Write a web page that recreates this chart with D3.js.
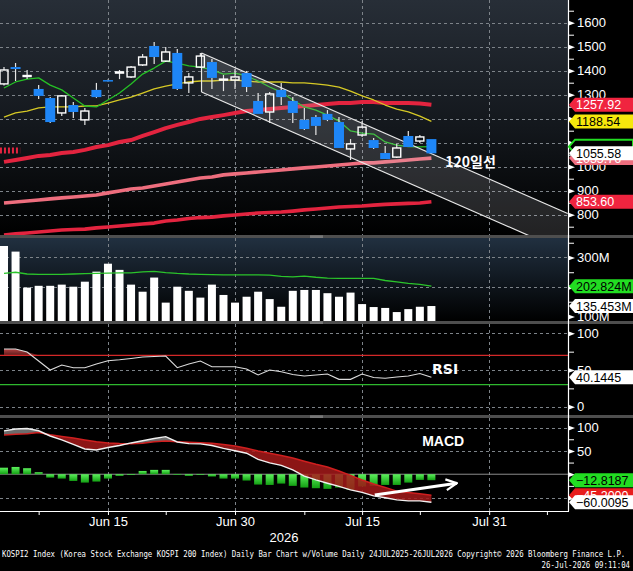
<!DOCTYPE html>
<html>
<head>
<meta charset="utf-8">
<script src="https://cdn.jsdelivr.net/npm/d3@7"></script>
<style>
  html, body { margin: 0; padding: 0; background: #000; overflow: hidden; }
  svg { display: block; }
  text { font-family: "Liberation Sans", Arial, sans-serif; }
</style>
</head>
<body>
<div id="chart"></div>
<script>
// KOSPI2 daily bars
var days = ["Jun 1", "Jun 2", "Jun 4", "Jun 5", "Jun 8", "Jun 9", "Jun 10", "Jun 11", "Jun 12",
  "Jun 15", "Jun 16", "Jun 17", "Jun 18", "Jun 19", "Jun 22", "Jun 23", "Jun 24", "Jun 25", "Jun 26",
  "Jun 29", "Jun 30", "Jul 1", "Jul 2", "Jul 3", "Jul 6", "Jul 7", "Jul 8", "Jul 9", "Jul 10",
  "Jul 13", "Jul 14", "Jul 15", "Jul 16", "Jul 20", "Jul 21", "Jul 22", "Jul 23", "Jul 24"];

var openP  = [1345, 1415, 1377, 1324, 1286, 1224, 1257, 1195, 1320, 1361, 1390, 1374, 1424, 1503, 1440, 1474, 1349, 1415, 1436,
  1361, 1361, 1390, 1274, 1228, 1320, 1274, 1195, 1207, 1220, 1186, 1074, 1132, 1111, 1057, 1040, 1128, 1107, 1115];
var highP  = [1415, 1432, 1403, 1340, 1290, 1299, 1270, 1245, 1349, 1363, 1403, 1420, 1470, 1520, 1499, 1490, 1390, 1474, 1449,
  1382, 1407, 1399, 1307, 1311, 1349, 1290, 1245, 1215, 1236, 1207, 1115, 1190, 1120, 1086, 1095, 1149, 1132, 1115];
var lowP   = [1338, 1357, 1365, 1282, 1182, 1211, 1203, 1174, 1286, 1355, 1365, 1370, 1420, 1428, 1436, 1320, 1307, 1411, 1324,
  1315, 1324, 1311, 1220, 1182, 1257, 1182, 1153, 1132, 1190, 1078, 1028, 1124, 1074, 1032, 1036, 1082, 1099, 1055];
var closeP = [1403, 1407, 1380, 1295, 1186, 1295, 1228, 1232, 1290, 1357, 1395, 1415, 1457, 1457, 1478, 1324, 1374, 1461, 1370,
  1365, 1374, 1332, 1220, 1303, 1290, 1224, 1157, 1170, 1195, 1078, 1095, 1165, 1078, 1032, 1078, 1082, 1124, 1055.58];

var maGreen  = [1328, 1353, 1365, 1370, 1340, 1320, 1286, 1253, 1249, 1278, 1307, 1345, 1386, 1411, 1440, 1432, 1420, 1415, 1403,
  1386, 1390, 1378, 1357, 1332, 1311, 1278, 1249, 1236, 1215, 1190, 1149, 1140, 1136, 1103, 1090, 1084, 1083, 1083.46];
var maYellow = [1207, 1224, 1232, 1245, 1249, 1249, 1249, 1253, 1253, 1265, 1278, 1290, 1307, 1324, 1336, 1345, 1353, 1357, 1357,
  1361, 1361, 1357, 1353, 1353, 1353, 1349, 1349, 1345, 1340, 1332, 1315, 1295, 1278, 1257, 1240, 1228, 1211, 1188.54];
var maRed    = [1020, 1028, 1036, 1045, 1049, 1057, 1061, 1070, 1082, 1090, 1103, 1111, 1128, 1144, 1161, 1174, 1186, 1199, 1207,
  1215, 1224, 1232, 1236, 1240, 1245, 1249, 1253, 1257, 1261, 1265, 1265, 1270, 1270, 1265, 1265, 1265, 1263, 1257.92];
var maPink   = [849, 853, 857, 861, 866, 870, 874, 878, 882, 891, 899, 907, 911, 920, 928, 936, 945, 953, 957,
  966, 970, 974, 978, 982, 986, 991, 995, 999, 1003, 1007, 1011, 1016, 1016, 1020, 1024, 1028, 1032, 1035.76];
var maLow    = [715, 720, 724, 728, 732, 736, 738, 740, 745, 749, 753, 757, 761, 765, 774, 778, 784, 788, 790,
  795, 799, 803, 807, 809, 811, 815, 820, 824, 828, 832, 834, 836, 840, 843, 845, 847, 849, 853.60];

// volume in millions
var volume = [339, 320, 198, 204, 204, 208, 201, 218, 252, 279, 258, 208, 184, 232, 147, 201, 187, 164, 208,
  173, 147, 167, 184, 159, 133, 187, 190, 190, 179, 167, 181, 142, 132, 129, 115, 125, 133, 135.453];
var volMA  = [246, 250, 244, 243, 243, 243, 244, 245, 246, 247, 248, 248, 251, 253, 249, 246, 244, 243, 242,
  241, 241, 241, 241, 240, 236, 234, 237, 233, 230, 229.5, 229.5, 229.5, 229, 222, 217, 212.5, 209, 202.824];

var rsi = [78.6, 78.6, 74.5, 62.3, 50, 56.8, 53.1, 53.1, 58.2, 62.7, 64, 65.7, 67.7, 68.4, 69, 53.1, 58.2, 62.3, 54.5,
  54.5, 54.5, 51.4, 43.2, 50, 47.7, 43.9, 41.8, 43.2, 44.6, 37.3, 37.3, 44.6, 39.8, 38.7, 40.5, 41.8, 45.2, 40.1445];

var macdLine   = [93, 97, 98, 93.2, 82, 73.5, 63.9, 54.2, 52.1, 57.2, 61.7, 67.1, 71.8, 76.7, 80.6, 69.2, 65.6, 65.1, 61.7,
  55.3, 50.4, 45, 31.7, 24.2, 18.9, 9.2, -4.1, -12.2, -19.3, -26.1, -33.6, -39, -46.5, -50.4, -55, -57.2, -57.2, -60.0095];
var signalLine = [84, 86, 87, 89.6, 84.6, 81, 77.8, 73.5, 69.6, 67.1, 66, 65.6, 66.6, 69.4, 71.4, 69.9, 68.6, 67.5, 66.6,
  63.9, 60.6, 55.7, 49.9, 45, 40.3, 34.9, 27.9, 21.4, 15.6, 6.9, -2.4, -12.4, -21, -28.3, -36.4, -39, -41.8, -45.2];
var macdHist   = [14, 15.6, 12.9, 4.3, -7.3, -9.4, -14.4, -18, -15.8, -9.4, -3.6, -0.5, 7, 9.3, 9.3, 0.5, -3.6, -0.5, -5,
  -9.4, -9.4, -13.6, -22.2, -23, -20.1, -25, -28.6, -30, -31.4, -28.6, -33.6, -26.4, -25, -23, -23, -18, -12.2, -12.8187];

// axis ticks (labels hidden behind value tags in the original are left out)
var tickIdx = [9, 20, 31, 42];
var tickLabels = ["Jun 15", "Jun 30", "Jul 15", "Jul 31"];
var minorTickIdx = [3, 14, 26, 36, 47];
var priceTicks = [800, 900, 1000, 1100, 1200, 1300, 1400, 1500, 1600];
var priceLabelTicks = [800, 900, 1000, 1300, 1400, 1500, 1600];
var priceMinor = [750, 850, 950, 1050, 1150, 1250, 1350, 1450, 1550, 1650];
var volTicks = [100, 200, 300];
var volLabelTicks = [100, 300];
var volMinor = [150, 250, 350];
var volGrid = [200, 300];
var rsiTicks = [0, 50, 100];
var rsiMinor = [25, 75];
var macdTicks = [-50, 0, 50, 100];
var macdLabelTicks = [50, 100];
var macdMinor = [-25, 25, 75];
var macdGrid = [-50, 50, 100];

// drawn annotations (index, value)
var channelTop = [[17.1, 1474], [48.8, 805]];
var channelBottom = [[17.1, 1311], [48.8, 642]];
var maNote = {i: 38.2, v: 999, text: "120일선"};
var stubLine = [[-0.35, 1067], [1.4, 1067]];
var macdArrow = [[32.1, -44.4], [39.2, -19.3]];

// ---- layout
var svgWidth = 633;
var svgHeight = 571;
var plotRight = 568;
var panels = {
  price: {top: 0, bottom: 235},
  vol: {top: 238, bottom: 321},
  rsi: {top: 324, bottom: 415},
  macd: {top: 418, bottom: 511}
};

var svg = d3.select("#chart")
  .append("svg")
  .attr("width", svgWidth)
  .attr("height", svgHeight);

var defs = svg.append("defs");

function vGradient(id, stops) {
  var g = defs.append("linearGradient").attr("id", id)
    .attr("x1", 0).attr("y1", 0).attr("x2", 0).attr("y2", 1);
  stops.forEach(function(s) {
    g.append("stop").attr("offset", s[0]).attr("stop-color", s[1]);
  });
}
vGradient("bgPrice", [[0, "#272e37"], [0.55, "#13171c"], [1, "#000"]]);
vGradient("bgVol", [[0, "#213040"], [1, "#000"]]);
vGradient("histGrad", [[0, "#5cf05c"], [1, "#13a013"]]);
vGradient("rsiGrad", [[0, "#b54040"], [1, "#5a1c1c"]]);

Object.keys(panels).forEach(function(k) {
  defs.append("clipPath").attr("id", "clip-" + k)
    .append("rect")
    .attr("x", 0).attr("y", panels[k].top)
    .attr("width", plotRight).attr("height", panels[k].bottom - panels[k].top);
});

defs.append("marker").attr("id", "arrowHead")
  .attr("viewBox", "0 0 10 10").attr("refX", 9).attr("refY", 5)
  .attr("markerWidth", 4.5).attr("markerHeight", 5.5)
  .attr("orient", "auto").attr("markerUnits", "strokeWidth")
  .append("path").attr("d", "M1,1 L9,5 L1,9")
  .attr("fill", "none").attr("stroke", "#fff").attr("stroke-width", 1.6);

// ---- scales
var x = d3.scaleLinear().domain([0, 37]).range([4, 431.4]);
var yP = d3.scaleLinear().domain([715.4, 1694.6]).range([235, 0]);
var yV = d3.scaleLinear().domain([84.7, 366.1]).range([321, 238]);
var yR = d3.scaleLinear().domain([-11.3, 112.7]).range([415, 324]);
var yM = d3.scaleLinear().domain([-78.9, 120.6]).range([511, 418]);
var idx = d3.range(days.length);

// ---- backgrounds
svg.append("rect").attr("width", svgWidth).attr("height", svgHeight).attr("fill", "#000");
svg.append("rect").attr("x", 0).attr("y", panels.price.top).attr("width", plotRight)
  .attr("height", panels.price.bottom - panels.price.top).attr("fill", "url(#bgPrice)");
svg.append("rect").attr("x", 0).attr("y", panels.vol.top).attr("width", plotRight)
  .attr("height", panels.vol.bottom - panels.vol.top).attr("fill", "url(#bgVol)");

// ---- grids
var gridColor = "#7d8389";
function hGrid(values, scale) {
  svg.append("g").selectAll("line").data(values).enter().append("line")
    .attr("x1", 0).attr("x2", plotRight)
    .attr("y1", function(d) { return Math.round(scale(d)) + 0.5; })
    .attr("y2", function(d) { return Math.round(scale(d)) + 0.5; })
    .attr("stroke", gridColor).attr("stroke-dasharray", "3,3");
}
function vGrid(p) {
  svg.append("g").selectAll("line").data(tickIdx).enter().append("line")
    .attr("x1", function(d) { return Math.round(x(d)) + 0.5; })
    .attr("x2", function(d) { return Math.round(x(d)) + 0.5; })
    .attr("y1", p.top).attr("y2", p.bottom)
    .attr("stroke", gridColor).attr("stroke-dasharray", "3,3");
}
hGrid(priceTicks, yP);
hGrid(volGrid, yV);
hGrid(rsiTicks, yR);
hGrid(macdGrid, yM);
Object.keys(panels).forEach(function(k) { vGrid(panels[k]); });

// ---- price panel
var priceG = svg.append("g").attr("clip-path", "url(#clip-price)");

function maLine(arr, color, width) {
  priceG.append("path")
    .datum(idx)
    .attr("fill", "none")
    .attr("stroke", color)
    .attr("stroke-width", width)
    .attr("stroke-linejoin", "round")
    .attr("d", d3.line().x(function(i) { return x(i); }).y(function(i) { return yP(arr[i]); }));
}
maLine(maLow, "#e3243f", 3.6);
maLine(maPink, "#ee6e7e", 3.6);
maLine(maRed, "#e3243f", 4);
maLine(maYellow, "#d6c925", 1.3);
maLine(maGreen, "#25c025", 1.3);

priceG.append("path")
  .datum(stubLine)
  .attr("stroke", "#e3243f").attr("stroke-width", 6).attr("stroke-dasharray", "2,2")
  .attr("d", d3.line().x(function(d) { return x(d[0]); }).y(function(d) { return yP(d[1]); }));

// trend channel
var chPoly = channelTop.concat(channelBottom.slice().reverse());
priceG.append("path")
  .datum(chPoly)
  .attr("fill", "rgba(205,210,215,0.17)")
  .attr("d", d3.line().x(function(d) { return x(d[0]); }).y(function(d) { return yP(d[1]); }).curve(d3.curveLinearClosed));
[channelTop, channelBottom].forEach(function(seg) {
  priceG.append("path").datum(seg)
    .attr("fill", "none").attr("stroke", "#e8e8e8").attr("stroke-width", 1.2)
    .attr("d", d3.line().x(function(d) { return x(d[0]); }).y(function(d) { return yP(d[1]); }));
});
priceG.append("line")
  .attr("x1", x(channelTop[0][0])).attr("x2", x(channelBottom[0][0]))
  .attr("y1", yP(channelTop[0][1])).attr("y2", yP(channelBottom[0][1]))
  .attr("stroke", "#e8e8e8").attr("stroke-width", 1.2);

// candles
var candleG = priceG.append("g");
idx.forEach(function(i) {
  var up = closeP[i] >= openP[i];
  var top = yP(Math.max(openP[i], closeP[i]));
  var bot = yP(Math.min(openP[i], closeP[i]));
  var cx = x(i);
  candleG.append("line")
    .attr("x1", cx).attr("x2", cx).attr("y1", yP(highP[i])).attr("y2", top)
    .attr("stroke", "#e6e6e6").attr("stroke-width", 1.2);
  candleG.append("line")
    .attr("x1", cx).attr("x2", cx).attr("y1", bot).attr("y2", yP(lowP[i]))
    .attr("stroke", "#e6e6e6").attr("stroke-width", 1.2);
  if (up) {
    candleG.append("rect")
      .attr("x", cx - 4).attr("y", top).attr("width", 8).attr("height", Math.max(1, bot - top))
      .attr("fill", "none").attr("stroke", "#fff").attr("stroke-width", 1.4);
  } else {
    candleG.append("rect")
      .attr("x", cx - 5).attr("y", top).attr("width", 10).attr("height", Math.max(1.5, bot - top))
      .attr("fill", "#1e86f7");
  }
});

svg.append("text")
  .attr("x", x(maNote.i)).attr("y", yP(maNote.v))
  .attr("fill", "#fff").attr("font-size", 14).attr("font-weight", "bold")
  .style("font-family", "'Noto Sans CJK KR', 'Noto Sans', sans-serif")
  .text(maNote.text);

// ---- volume panel
var volG = svg.append("g").attr("clip-path", "url(#clip-vol)");
volG.selectAll("rect").data(idx).enter().append("rect")
  .attr("x", function(i) { return x(i) - 4; })
  .attr("width", 8)
  .attr("y", function(i) { return yV(volume[i]); })
  .attr("height", function(i) { return panels.vol.bottom - yV(volume[i]); })
  .attr("fill", "#fff");
volG.append("path").datum(idx)
  .attr("fill", "none").attr("stroke", "#2bc42b").attr("stroke-width", 1.3)
  .attr("d", d3.line().x(function(i) { return x(i); }).y(function(i) { return yV(volMA[i]); }));

// ---- RSI panel
var rsiG = svg.append("g").attr("clip-path", "url(#clip-rsi)");
rsiG.append("path").datum(idx)
  .attr("fill", "url(#rsiGrad)")
  .attr("d", d3.area().x(function(i) { return x(i); })
    .y0(function() { return yR(70); })
    .y1(function(i) { return yR(Math.max(70, rsi[i])); }));
rsiG.append("line").attr("x1", 0).attr("x2", plotRight)
  .attr("y1", yR(70)).attr("y2", yR(70)).attr("stroke", "#d42828").attr("stroke-width", 1.2);
rsiG.append("line").attr("x1", 0).attr("x2", plotRight)
  .attr("y1", yR(30)).attr("y2", yR(30)).attr("stroke", "#2eb82e").attr("stroke-width", 1.2);
rsiG.append("path").datum(idx)
  .attr("fill", "none").attr("stroke", "#dcdcdc").attr("stroke-width", 1.1)
  .attr("d", d3.line().x(function(i) { return x(i); }).y(function(i) { return yR(rsi[i]); }));
svg.append("text").attr("x", x(37.06)).attr("y", yR(43.9))
  .attr("fill", "#fff").attr("font-size", 14).attr("font-weight", "bold")
  .style("font-family", "'DejaVu Sans', sans-serif")
  .text("RSI");

// ---- MACD panel
var macdG = svg.append("g").attr("clip-path", "url(#clip-macd)");
macdG.append("line").attr("x1", 0).attr("x2", plotRight)
  .attr("y1", yM(0)).attr("y2", yM(0)).attr("stroke", "#8c8c8c").attr("stroke-width", 1);
macdG.selectAll("rect.hist").data(idx).enter().append("rect")
  .attr("class", "hist")
  .attr("x", function(i) { return x(i) - 4; })
  .attr("width", 8)
  .attr("y", function(i) { return yM(Math.max(0, macdHist[i])); })
  .attr("height", function(i) { return Math.max(0.8, Math.abs(yM(macdHist[i]) - yM(0))); })
  .attr("fill", "url(#histGrad)");
macdG.append("path").datum(idx)
  .attr("fill", "#a51a1a").attr("fill-opacity", 0.85)
  .attr("d", d3.area().x(function(i) { return x(i); })
    .y0(function(i) { return yM(signalLine[i]); })
    .y1(function(i) { return yM(Math.min(signalLine[i], macdLine[i])); }));
macdG.append("path").datum(idx)
  .attr("fill", "#9a9a9a").attr("fill-opacity", 0.7)
  .attr("d", d3.area().x(function(i) { return x(i); })
    .y0(function(i) { return yM(macdLine[i]); })
    .y1(function(i) { return yM(Math.min(signalLine[i], macdLine[i])); }));
macdG.append("path").datum(idx)
  .attr("fill", "none").attr("stroke", "#cf1f1f").attr("stroke-width", 1.5)
  .attr("d", d3.line().x(function(i) { return x(i); }).y(function(i) { return yM(signalLine[i]); }));
macdG.append("path").datum(idx)
  .attr("fill", "none").attr("stroke", "#f0f0f0").attr("stroke-width", 1.4)
  .attr("d", d3.line().x(function(i) { return x(i); }).y(function(i) { return yM(macdLine[i]); }));
macdG.append("path").datum(macdArrow)
  .attr("fill", "none").attr("stroke", "#fff").attr("stroke-width", 3)
  .attr("marker-end", "url(#arrowHead)")
  .attr("d", d3.line().x(function(d) { return x(d[0]); }).y(function(d) { return yM(d[1]); }));
svg.append("text").attr("x", x(36.2)).attr("y", yM(60.6))
  .attr("fill", "#fff").attr("font-size", 14).attr("font-weight", "bold")
  .text("MACD");

// ---- separators
[[235, 238], [321, 324], [415, 418]].forEach(function(s) {
  svg.append("rect").attr("x", 0).attr("y", s[0]).attr("width", svgWidth).attr("height", s[1] - s[0])
    .attr("fill", "#4e4e4e");
  svg.append("line").attr("x1", 310).attr("x2", 323).attr("y1", s[0] + 1).attr("y2", s[0] + 1)
    .attr("stroke", "#9a9a9a").attr("stroke-width", 0.8);
  svg.append("line").attr("x1", 310).attr("x2", 323).attr("y1", s[0] + 2.2).attr("y2", s[0] + 2.2)
    .attr("stroke", "#9a9a9a").attr("stroke-width", 0.8);
});

// ---- right axes
svg.append("line").attr("x1", plotRight + 0.5).attr("x2", plotRight + 0.5)
  .attr("y1", 0).attr("y2", panels.macd.bottom)
  .attr("stroke", "#fff").attr("stroke-width", 1.2);

function rightAxis(scale, major, labelled, minor, fmt) {
  var g = svg.append("g").attr("transform", "translate(" + plotRight + ",0)");
  g.call(d3.axisRight(scale).tickValues(major).tickSize(0).tickPadding(9)
    .tickFormat(function(d) { return labelled.indexOf(d) >= 0 ? fmt(d) : ""; }));
  g.select(".domain").remove();
  g.selectAll("text").attr("fill", "#fff").attr("font-size", 13)
    .style("font-family", "'Liberation Sans', Arial, sans-serif");
  g.selectAll(".tick").append("path").attr("d", "M0,-2.6 L7,0 L0,2.6 Z").attr("fill", "#fff");
  var m = svg.append("g").attr("transform", "translate(" + plotRight + ",0)");
  m.call(d3.axisRight(scale).tickValues(minor).tickSize(6).tickFormat(""));
  m.select(".domain").remove();
  m.selectAll("line").attr("stroke", "#fff");
}
rightAxis(yP, priceTicks, priceLabelTicks, priceMinor, d3.format("d"));
rightAxis(yV, volTicks, volLabelTicks, volMinor, function(d) { return d + "M"; });
rightAxis(yR, rsiTicks, rsiTicks, rsiMinor, d3.format("d"));
rightAxis(yM, macdTicks, macdLabelTicks, macdMinor, d3.format("d"));

// value tags on the axis
function tag(yPos, label, fill, color, stroke) {
  var h = 14;
  var g = svg.append("g");
  g.append("path")
    .attr("d", "M" + (plotRight + 1) + "," + yPos + " L" + (plotRight + 7) + "," + (yPos - h / 2) +
      " L" + svgWidth + "," + (yPos - h / 2) + " L" + svgWidth + "," + (yPos + h / 2) +
      " L" + (plotRight + 7) + "," + (yPos + h / 2) + " Z")
    .attr("fill", fill)
    .attr("stroke", stroke || "none")
    .attr("stroke-width", stroke ? 2 : 0);
  if (label) {
    g.append("text").attr("x", plotRight + 8).attr("y", yPos).attr("dy", "0.36em")
      .attr("fill", color).attr("font-size", 12.5).text(label);
  }
}
var f2 = d3.format(".2f");
var last = days.length - 1;
tag(yP(maPink[last]), f2(maPink[last]), "#ee6e7e", "#fff");
tag(yP(maGreen[last]), null, "#000", "#000", "#22dd22");
tag(yP(maRed[last]), f2(maRed[last]), "#f0243f", "#fff");
tag(yP(maYellow[last]), f2(maYellow[last]), "#f6e80c", "#000");
tag(yP(maLow[last]), f2(maLow[last]), "#f0243f", "#fff");
tag(yP(closeP[last]), f2(closeP[last]), "#fff", "#000");

tag(yV(volMA[last]), d3.format(".3f")(volMA[last]) + "M", "#22dd22", "#000");
tag(yV(volume[last]), d3.format(".3f")(volume[last]) + "M", "#fff", "#000");

tag(yR(rsi[last]), d3.format(".4f")(rsi[last]), "#fff", "#000");

tag(yM(signalLine[last]), d3.format(".4f")(signalLine[last]), "#e81c1c", "#fff");
tag(yM(macdHist[last]), d3.format(".4f")(macdHist[last]), "#22dd22", "#000");
tag(yM(macdLine[last]), d3.format(".4f")(macdLine[last]), "#fff", "#000");

// ---- bottom date axis
svg.append("line").attr("x1", 0).attr("x2", plotRight + 1)
  .attr("y1", panels.macd.bottom + 0.5).attr("y2", panels.macd.bottom + 0.5)
  .attr("stroke", "#fff").attr("stroke-width", 1.2);
var xAxisG = svg.append("g").attr("transform", "translate(0," + panels.macd.bottom + ")");
xAxisG.call(d3.axisBottom(x).tickValues(tickIdx).tickSize(4).tickPadding(2)
  .tickFormat(function(d, i) { return tickLabels[i]; }));
xAxisG.select(".domain").remove();
xAxisG.selectAll("line").attr("stroke", "#fff");
xAxisG.selectAll("text").attr("fill", "#fff").attr("font-size", 13)
  .style("font-family", "'Liberation Sans', Arial, sans-serif");
var xMinorG = svg.append("g").attr("transform", "translate(0," + panels.macd.bottom + ")");
xMinorG.call(d3.axisBottom(x).tickValues(minorTickIdx).tickSize(4).tickFormat(""));
xMinorG.select(".domain").remove();
xMinorG.selectAll("line").attr("stroke", "#fff");

svg.append("text").attr("x", 284).attr("y", 542).attr("text-anchor", "middle")
  .attr("fill", "#fff").attr("font-size", 13).text("2026");

// footer, squeezed horizontally like the terminal font
svg.append("text")
  .attr("transform", "translate(2,557) scale(0.79,1)")
  .attr("fill", "#fff").attr("font-size", 9.3)
  .style("font-family", "'DejaVu Sans Mono', monospace")
  .text("KOSPI2 Index (Korea Stock Exchange KOSPI 200 Index) Daily Bar Chart w/Volume Daily 24JUL2025-26JUL2026  Copyright\u00a9 2026 Bloomberg Finance L.P.");
svg.append("text")
  .attr("transform", "translate(630,568) scale(0.79,1)")
  .attr("text-anchor", "end")
  .attr("fill", "#fff").attr("font-size", 9.3)
  .style("font-family", "'DejaVu Sans Mono', monospace")
  .text("26-Jul-2026 09:11:04");
</script>
</body>
</html>
